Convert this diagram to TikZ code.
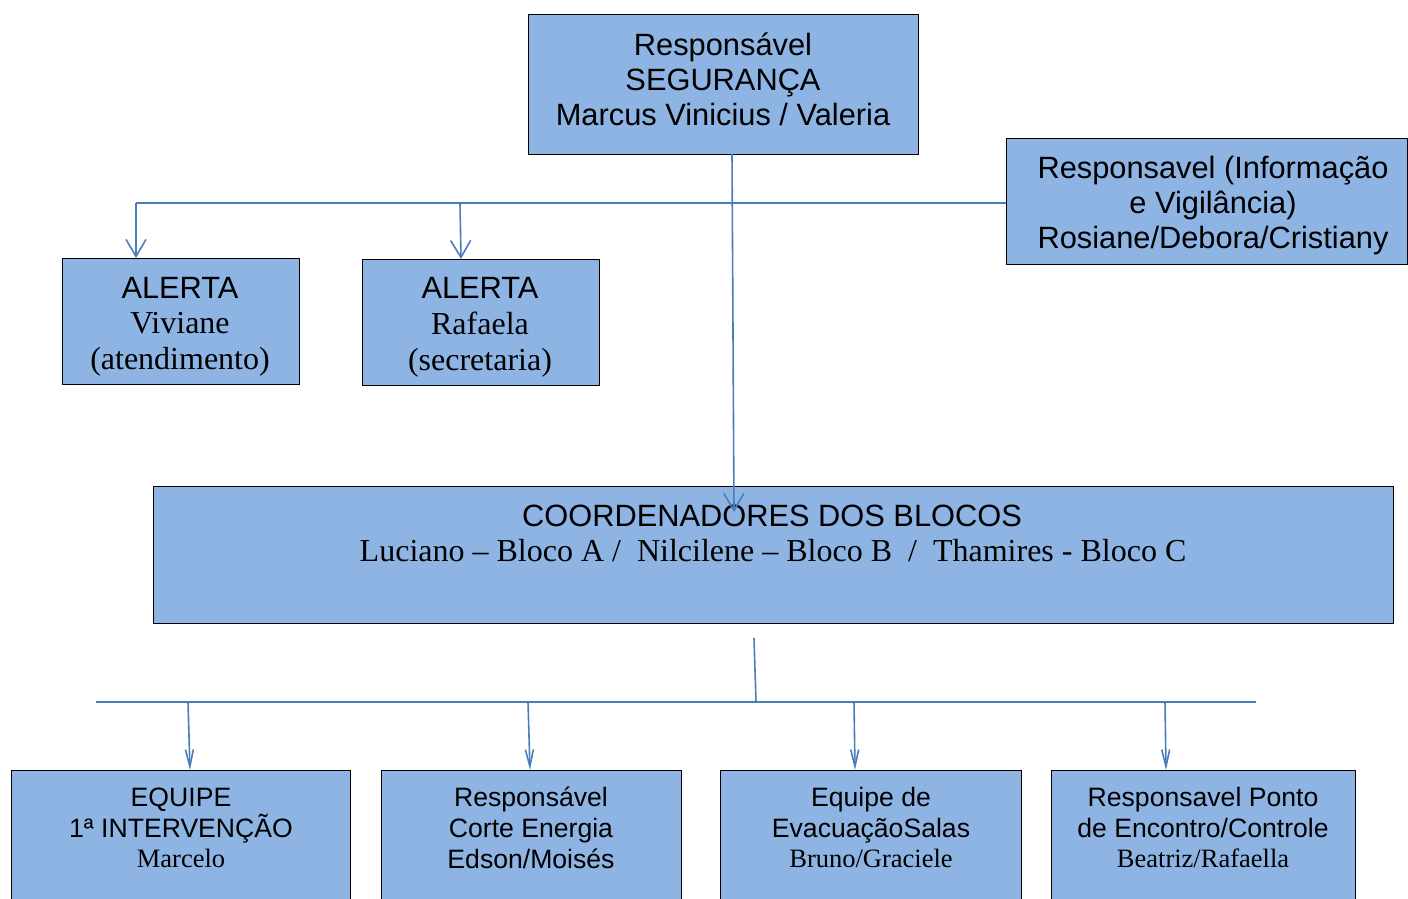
\documentclass[tikz,border=0pt]{standalone}
\usepackage{fontspec}
\setmainfont{Liberation Serif}
\setsansfont{Liberation Sans}
\usetikzlibrary{arrows.meta}
\definecolor{boxfill}{HTML}{8EB4E3}
\definecolor{linec}{HTML}{4A7EBB}
\begin{document}
\begin{tikzpicture}[x=1pt,y=-1pt,
  box/.style={draw=black, line width=1.2pt, fill=boxfill, anchor=north west, inner sep=0pt},
  conn/.style={draw=linec, line width=1.6pt},
  bigarr/.style={conn, -{Straight Barb[length=17pt,width=20pt,line width=1.6pt]}},
  smallarr/.style={conn, -{Straight Barb[length=17pt,width=8pt,line width=1.6pt]}},
  txt/.style={align=center, inner sep=0pt, text=black},
  bigsans/.style={font=\sffamily\fontsize{30.8}{35}\selectfont},
  bigserif/.style={font=\fontsize{32}{36}\selectfont},
  smallsans/.style={font=\sffamily\fontsize{26.6}{31}\selectfont},
  smallserif/.style={font=\fontsize{26.5}{30}\selectfont}]
\useasboundingbox (0,0) rectangle (1408,899);
% boxes
\node[box, minimum width=390pt, minimum height=140pt] (top) at (528,14) {};
\node[box, minimum width=401pt, minimum height=126pt] (info) at (1006,138) {};
\node[box, minimum width=237pt, minimum height=126pt] (al1) at (62,258) {};
\node[box, minimum width=237pt, minimum height=126pt] (al2) at (362,259) {};
\node[box, minimum width=1240pt, minimum height=137pt] (coord) at (153,486) {};
\node[box, minimum width=339pt, minimum height=160pt] (b1) at (11,770) {};
\node[box, minimum width=300pt, minimum height=160pt] (b2) at (381,770) {};
\node[box, minimum width=301pt, minimum height=160pt] (b3) at (720,770) {};
\node[box, minimum width=304pt, minimum height=160pt] (b4) at (1051,770) {};
% texts
\node[txt, bigsans] (ttop) at (723,79) {Responsável\\SEGURANÇA\\Marcus Vinicius / Valeria};
\node[txt, bigsans] (tinfo) at (1213,206) {Responsavel (Informação\\e Vigilância)\\Rosiane/Debora/Cristiany};
\node[txt, bigsans, anchor=base] (tal1a) at (180,298) {ALERTA};
\node[txt, bigserif, anchor=base] (tal1b) at (180,333) {Viviane};
\node[txt, bigserif, anchor=base] (tal1c) at (180,369) {(atendimento)};
\node[txt, bigsans, anchor=base] (tal2a) at (480,298) {ALERTA};
\node[txt, bigserif, anchor=base] (tal2b) at (480,334) {Rafaela};
\node[txt, bigserif, anchor=base] (tal2c) at (480,370) {(secretaria)};
\node[txt, bigsans, anchor=base] (tco1) at (772,526) {COORDENADORES DOS BLOCOS};
\node[txt, bigserif, anchor=base] (tco2) at (773,561) {Luciano -- Bloco A /\ \ Nilcilene -- Bloco B\ \ /\ \ Thamires - Bloco C};
\node[txt, smallsans, anchor=base] (tb1a) at (181,806) {EQUIPE};
\node[txt, smallsans, anchor=base] (tb1b) at (181,837) {1ª INTERVENÇÃO};
\node[txt, smallserif, anchor=base] (tb1c) at (181,867) {Marcelo};
\node[txt, smallsans, anchor=base] (tb2a) at (531,806) {Responsável};
\node[txt, smallsans, anchor=base] (tb2b) at (531,837) {Corte Energia};
\node[txt, smallsans, anchor=base] (tb2c) at (531,868) {Edson/Moisés};
\node[txt, smallsans, anchor=base] (tb3a) at (871,806) {Equipe de};
\node[txt, smallsans, anchor=base] (tb3b) at (871,837) {EvacuaçãoSalas};
\node[txt, smallserif, anchor=base] (tb3c) at (871,867) {Bruno/Graciele};
\node[txt, smallsans, anchor=base] (tb4a) at (1203,806) {Responsavel Ponto};
\node[txt, smallsans, anchor=base] (tb4b) at (1203,837) {de Encontro/Controle};
\node[txt, smallserif, anchor=base] (tb4c) at (1203,867) {Beatriz/Rafaella};
% top connectors
\coordinate (topout) at (732,154);
\coordinate (coordin) at (734,512);
\coordinate (hl) at (136,203);
\coordinate (hm) at (460,203);
\draw[bigarr] (topout) -- (coordin);
\draw[conn] (hl) -- (hl -| info.west);
\draw[bigarr] (hl) -- (hl |- al1.north);
\draw[bigarr] (hm) -- (461,259);
% bottom connectors
\coordinate (cbot) at (754,638);
\coordinate (bj) at (756,702);
\coordinate (bl) at (96,702);
\coordinate (br) at (1256,702);
\draw[conn] (cbot) -- (bj);
\draw[conn, line width=2.6pt] (bl) -- (br);
\coordinate (s1) at (188,702);
\coordinate (s2) at (528,702);
\coordinate (s3) at (854,702);
\coordinate (s4) at (1165,702);
\draw[smallarr] (s1) -- (190,770);
\draw[smallarr] (s2) -- (530,770);
\draw[smallarr] (s3) -- (855,770);
\draw[smallarr] (s4) -- (1166,770);
\end{tikzpicture}
\end{document}
